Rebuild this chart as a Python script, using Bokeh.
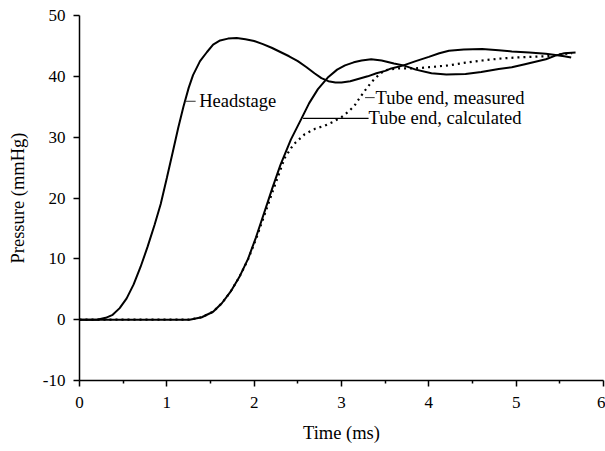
from bokeh.plotting import figure
from bokeh.models import Range1d, FixedTicker, Label
from bokeh.core.properties import value
from bokeh.embed import file_html
from bokeh.resources import INLINE

# Headstage pressure (ms, mmHg)
head_t = [0.0, 0.2, 0.3, 0.38, 0.46, 0.54, 0.62, 0.70, 0.78, 0.86, 0.93, 1.00, 1.07, 1.13,
          1.19, 1.25, 1.30, 1.38, 1.46, 1.53, 1.61, 1.70, 1.80, 1.90, 2.00, 2.10, 2.20, 2.30,
          2.40, 2.50, 2.60, 2.69, 2.77, 2.85, 2.93, 3.00, 3.10, 3.20, 3.30, 3.40, 3.50,
          3.57, 3.71, 3.85, 4.00, 4.12, 4.23, 4.40, 4.61, 4.80, 4.95, 5.15, 5.34, 5.45,
          5.55, 5.63]
head_p = [0.0, 0.0, 0.3, 0.8, 1.9, 3.5, 5.8, 8.7, 12.0, 15.6, 19.0, 23.3, 27.7, 31.5,
          35.0, 38.1, 40.2, 42.5, 44.0, 45.2, 45.9, 46.2, 46.3, 46.1, 45.8, 45.3, 44.7, 44.0,
          43.3, 42.5, 41.5, 40.5, 39.7, 39.2, 39.0, 39.0, 39.2, 39.6, 40.0, 40.5, 40.9,
          41.3, 41.8, 42.5, 43.2, 43.8, 44.2, 44.4, 44.5, 44.3, 44.1, 43.9, 43.7, 43.5,
          43.3, 43.1]

# Tube end, calculated
calc_t = [0.0, 1.26, 1.40, 1.53, 1.63, 1.73, 1.83, 1.93, 2.02, 2.12, 2.21, 2.30, 2.42,
          2.54, 2.63, 2.73, 2.85, 2.95, 3.04, 3.14, 3.23, 3.34, 3.46, 3.60, 3.71, 3.85,
          4.03, 4.20, 4.42, 4.60, 4.80, 4.95, 5.10, 5.22, 5.34, 5.45, 5.55, 5.68]
calc_p = [0.0, 0.0, 0.4, 1.3, 2.7, 4.6, 7.0, 10.0, 13.5, 17.8, 21.7, 25.4, 29.6,
          33.0, 35.6, 37.9, 39.9, 41.1, 41.8, 42.3, 42.6, 42.8, 42.6, 42.1, 41.8, 41.1,
          40.5, 40.3, 40.4, 40.7, 41.2, 41.5, 42.0, 42.4, 42.8, 43.4, 43.8, 43.9]

# Tube end, measured
meas_t = [0.0, 1.26, 1.40, 1.53, 1.63, 1.73, 1.83, 1.93, 2.02, 2.12, 2.21, 2.31, 2.35,
          2.45, 2.58, 2.70, 2.81, 2.90, 3.00, 3.08, 3.15, 3.21, 3.27, 3.33, 3.38, 3.44,
          3.50, 3.65, 3.84, 4.00, 4.23, 4.40, 4.61, 4.80, 5.00, 5.17, 5.34, 5.50, 5.64]
meas_p = [0.0, 0.0, 0.4, 1.3, 2.7, 4.6, 7.0, 9.9, 13.2, 17.3, 21.0, 25.0, 26.6,
          28.8, 30.5, 31.4, 31.9, 32.5, 33.3, 34.2, 35.2, 36.5, 37.7, 38.8, 39.6, 40.4,
          41.0, 41.3, 41.3, 41.5, 41.8, 42.2, 42.6, 42.9, 43.1, 43.2, 43.3, 43.6, 43.8]

x_ticks = [0, 1, 2, 3, 4, 5, 6]
y_ticks = [-10, 0, 10, 20, 30, 40, 50]
y_tick_labels = ["-10", "0", "10", "20", "30", "40", "50"]

FONT = "Liberation Serif"

p = figure(width=605, height=451, output_backend="svg", toolbar_location=None,
           x_range=Range1d(0, 6), y_range=Range1d(-10, 50),
           min_border_left=79, min_border_right=2, min_border_top=15,
           min_border_bottom=71)
p.outline_line_color = None
p.grid.visible = False
p.background_fill_color = "white"
p.border_fill_color = "white"

p.line(head_t, head_p, line_color="black", line_width=2)
p.line(calc_t, calc_p, line_color="black", line_width=2)
p.line(meas_t, meas_p, line_color="black", line_width=2.2, line_dash="2 4")

# label leader lines
p.line([1.21, 1.33], [35.9, 35.9], line_color="#333333", line_width=1)
p.line([3.27, 3.38], [36.5, 36.5], line_color="#333333", line_width=1)
p.line([2.56, 3.31], [33.1, 33.1], line_color="black", line_width=1.3)

for (tx, ty, txt) in [(1.37, 35.9, "Headstage"),
                      (3.39, 36.5, "Tube end, measured"),
                      (3.31, 33.1, "Tube end, calculated")]:
    p.add_layout(Label(x=tx, y=ty, text=txt, text_font=FONT, text_font_size="18.5px",
                       text_baseline="middle", text_align="left", text_color="black"))

xa = p.xaxis[0]
xa.ticker = FixedTicker(ticks=x_ticks, minor_ticks=[0.5, 1.5, 2.5, 3.5, 4.5, 5.5])
xa.axis_label = "Time (ms)"
ya = p.yaxis[0]
ya.ticker = FixedTicker(ticks=y_ticks)
ya.major_label_overrides = {t: s for t, s in zip(y_ticks, y_tick_labels)}
ya.axis_label = "Pressure (mmHg)"

for ax in (xa, ya):
    ax.axis_line_color = "black"
    ax.axis_line_width = 1.5
    ax.major_tick_line_color = "black"
    ax.major_tick_line_width = 1.5
    ax.minor_tick_line_color = "black"
    ax.minor_tick_line_width = 1.5
    ax.major_tick_in = 0
    ax.major_tick_out = 6
    ax.minor_tick_in = 0
    ax.minor_tick_out = 3
    ax.major_label_text_font = FONT
    ax.major_label_text_font_size = "17px"
    ax.major_label_text_color = "black"
    ax.axis_label_text_font = FONT
    ax.axis_label_text_font_size = "18.5px"
    ax.axis_label_text_font_style = "normal"
    ax.axis_label_text_color = "black"

ya.minor_tick_out = 0
ya.major_label_standoff = 8
ya.axis_label_standoff = 12
xa.major_label_standoff = 10
xa.axis_label_standoff = 12

open("out.html", "w").write(file_html(p, INLINE))
